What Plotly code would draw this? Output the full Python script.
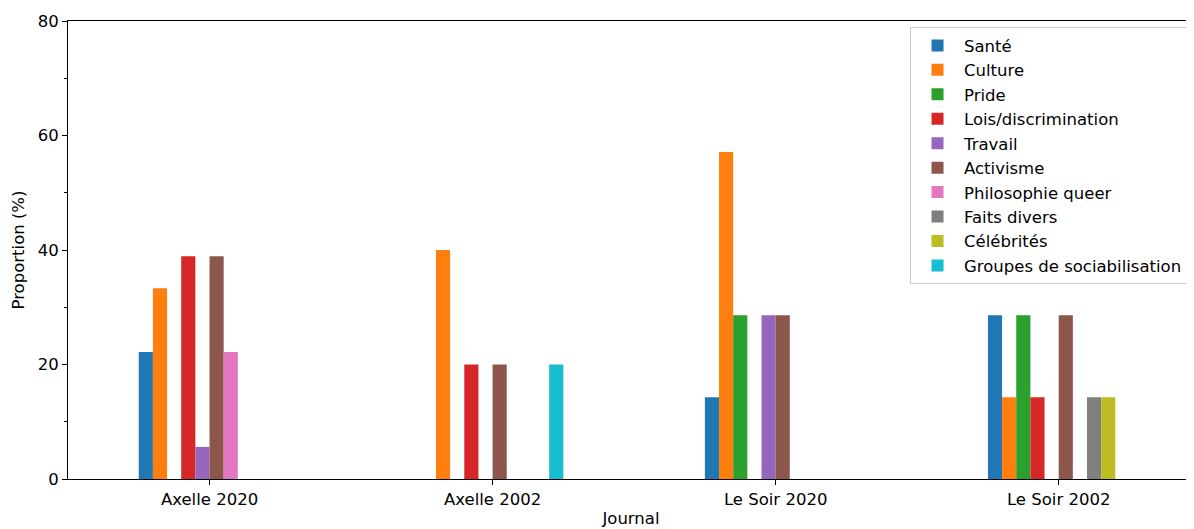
import plotly.graph_objects as go

journals = ["Axelle 2020", "Axelle 2002", "Le Soir 2020", "Le Soir 2002"]
themes = ["Santé", "Culture", "Pride", "Lois/discrimination", "Travail", "Activisme",
          "Philosophie queer", "Faits divers", "Célébrités", "Groupes de sociabilisation"]
colors = ["#1f77b4", "#ff7f0e", "#2ca02c", "#d62728", "#9467bd", "#8c564b",
          "#e377c2", "#7f7f7f", "#bcbd22", "#17becf"]

sante = [22.2, 0, 14.3, 28.6]
culture = [33.3, 40.0, 57.1, 14.3]
pride = [0, 0, 28.6, 28.6]
lois = [38.9, 20.0, 0, 14.3]
travail = [5.6, 0, 28.6, 0]
activisme = [38.9, 20.0, 28.6, 28.6]
philosophie = [22.2, 0, 0, 0]
faits_divers = [0, 0, 0, 14.3]
celebrites = [0, 0, 0, 14.3]
groupes = [0, 20.0, 0, 0]

series = [sante, culture, pride, lois, travail, activisme, philosophie,
          faits_divers, celebrites, groupes]

fig = go.Figure()
for name, vals, col in zip(themes, series, colors):
    fig.add_trace(go.Bar(x=journals, y=vals, name=name,
                         marker=dict(color=col, line=dict(width=0))))

font = "DejaVu Sans, sans-serif"
fs = 16.5
fig.update_layout(
    width=1194, height=521,
    margin=dict(l=60, r=8, t=13, b=50, autoexpand=False),
    paper_bgcolor="white", plot_bgcolor="white",
    barmode="group", bargap=0.5, bargroupgap=0,
    font=dict(family=font, size=fs, color="black"),
    showlegend=True,
    legend=dict(x=0.9947, y=0.9865, xanchor="right", yanchor="top",
                bgcolor="rgba(255,255,255,0.8)", bordercolor="#cccccc", borderwidth=1,
                font=dict(family=font, size=fs), itemwidth=43,
                tracegroupgap=0),
    xaxis=dict(range=[-0.5, 3.478], showline=True, mirror=True, linecolor="black",
               linewidth=1, ticks="outside", ticklen=5, tickcolor="black",
               showgrid=False, zeroline=False, automargin=False,
               title=dict(text="Journal", standoff=4, font=dict(size=fs))),
    yaxis=dict(range=[0, 80], showline=True, linecolor="black", linewidth=1,
               ticks="outside", ticklen=5, tickcolor="black", dtick=20,
               showgrid=False, zeroline=False, automargin=False,
               minor=dict(dtick=10, ticks="outside", ticklen=3, tickcolor="black", showgrid=False),
               title=dict(text="Proportion (%)", standoff=8, font=dict(size=fs))),
)

fig.write_html("out.html")
